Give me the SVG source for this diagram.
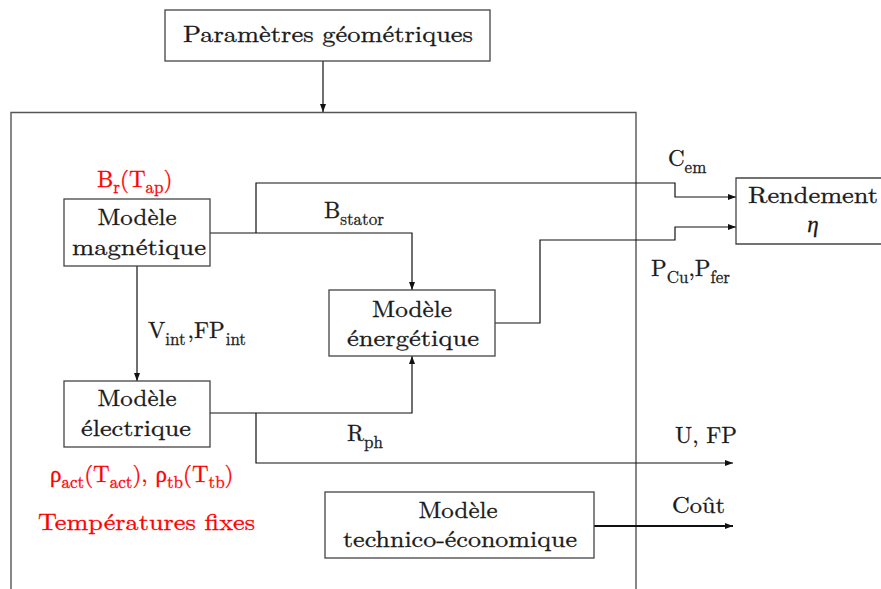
<svg xmlns="http://www.w3.org/2000/svg" width="881" height="589" viewBox="0 0 881 589">
<defs>
<style>
.box{fill:#fff;stroke:#444;stroke-width:1.3}
.frame{fill:none;stroke:#555;stroke-width:1.4}
.conn{fill:none;stroke:#111;stroke-width:1.2}
.t{font-size:23px;fill:#1a1a1a;stroke:#1a1a1a;stroke-width:0.3}
.c{text-anchor:middle}
.s{font-size:17px}
.red{fill:#ff0000;stroke:#ff0000}
</style>
<marker id="ah" markerWidth="9" markerHeight="7" refX="8" refY="3" orient="auto" markerUnits="userSpaceOnUse">
<path d="M0,0 L8,3 L0,6 z" fill="#111"/>
</marker>
</defs>
<rect width="881" height="589" fill="#fff"/>
<path class="frame" d="M11,595 V112.5 H636 V595"/>
<g id="connectors">
<path class="conn" d="M323,61 V112" marker-end="url(#ah)"/>
<path class="conn" d="M210,233 H412 V290" marker-end="url(#ah)"/>
<path class="conn" d="M256,233 V183 H675 V197 H736" marker-end="url(#ah)"/>
<path class="conn" d="M495,323 H540 V240 H675 V227 H736" marker-end="url(#ah)"/>
<path class="conn" d="M137,266 V381" marker-end="url(#ah)"/>
<path class="conn" d="M210,413 H412 V356" marker-end="url(#ah)"/>
<path class="conn" d="M256,413 V463 H733" marker-end="url(#ah)"/>
<path class="conn" d="M594,526 H733" style="stroke-width:2" marker-end="url(#ah)"/>
</g>
<g font-family="Latin Modern Roman, Liberation Serif, serif">
<g id="parametres">
<rect class="box" x="165" y="10" width="325" height="51"/>
<text class="t c" x="328" y="42" textLength="290" lengthAdjust="spacingAndGlyphs">Paramètres géométriques</text>
</g>
<g id="magnetique">
<rect class="box" x="64" y="199" width="146" height="67"/>
<text class="t c" x="137" y="225" textLength="79" lengthAdjust="spacingAndGlyphs">Modèle</text>
<text class="t c" x="139" y="255" textLength="134" lengthAdjust="spacingAndGlyphs">magnétique</text>
</g>
<g id="energetique">
<rect class="box" x="329" y="290" width="166" height="66"/>
<text class="t c" x="412" y="317" textLength="80" lengthAdjust="spacingAndGlyphs">Modèle</text>
<text class="t c" x="413" y="346" textLength="132" lengthAdjust="spacingAndGlyphs">énergétique</text>
</g>
<g id="electrique">
<rect class="box" x="64" y="381" width="146" height="66"/>
<text class="t c" x="137" y="406" textLength="79" lengthAdjust="spacingAndGlyphs">Modèle</text>
<text class="t c" x="136" y="436" textLength="110" lengthAdjust="spacingAndGlyphs">électrique</text>
</g>
<g id="technico">
<rect class="box" x="325" y="492" width="269" height="66"/>
<text class="t c" x="458" y="518" textLength="79" lengthAdjust="spacingAndGlyphs">Modèle</text>
<text class="t c" x="460" y="547" textLength="234" lengthAdjust="spacingAndGlyphs">technico-économique</text>
</g>
<g id="rendement">
<path class="box" d="M890,178 H736 V244 H890"/>
<text class="t c" x="813" y="203" textLength="130" lengthAdjust="spacingAndGlyphs">Rendement</text>
<text class="t c" x="813" y="232" font-style="italic">η</text>
</g>
<g id="labels">
<text class="t red" x="97" y="187">B<tspan class="s" dy="6">r</tspan><tspan dy="-6">(T</tspan><tspan class="s" dy="6">ap</tspan><tspan dy="-6">)</tspan></text>
<text class="t" x="324" y="218">B<tspan class="s" dy="7">stator</tspan></text>
<text class="t" x="668" y="166">C<tspan class="s" dy="7">em</tspan></text>
<text class="t" x="651" y="276">P<tspan class="s" dy="7">Cu</tspan><tspan dy="-7">,P</tspan><tspan class="s" dy="7">fer</tspan></text>
<text class="t" x="148" y="338">V<tspan class="s" dy="7">int</tspan><tspan dx="2" dy="-7">,FP</tspan><tspan class="s" dx="1" dy="7">int</tspan></text>
<text class="t" x="347" y="441">R<tspan class="s" dy="7">ph</tspan></text>
<text class="t" x="675" y="443" textLength="62" lengthAdjust="spacingAndGlyphs">U, FP</text>
<text class="t" x="672" y="513" textLength="53" lengthAdjust="spacingAndGlyphs">Coût</text>
<text class="t red" x="50" y="482">ρ<tspan class="s" dy="6">act</tspan><tspan dy="-6">(T</tspan><tspan class="s" dy="6">act</tspan><tspan dy="-6">), ρ</tspan><tspan class="s" dy="6">tb</tspan><tspan dy="-6">(T</tspan><tspan class="s" dy="6">tb</tspan><tspan dy="-6">)</tspan></text>
<text class="t red" x="38" y="530" textLength="217" lengthAdjust="spacingAndGlyphs">Températures fixes</text>
</g>
</g>
</svg>
